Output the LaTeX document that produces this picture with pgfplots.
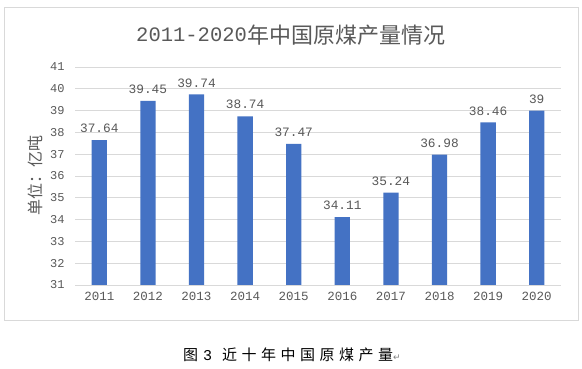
\documentclass[border=0pt]{standalone}
\usepackage{fontspec}
\setmainfont{Noto Sans CJK SC}
\newfontfamily\cjk{Noto Sans CJK SC}
\newfontfamily\numfont{Liberation Mono}
\newfontfamily\symfont{DejaVu Sans}
\usepackage{pgfplots}
\pgfplotsset{compat=1.18}
\definecolor{barblue}{HTML}{4472C4}
\definecolor{txtgray}{HTML}{595959}
\definecolor{gridgray}{HTML}{D9D9D9}
\newcommand{\csp}{\hspace{4.5bp}}
\begin{document}
\begin{tikzpicture}
\path[use as bounding box] (0,0) rectangle (582bp,369bp);
\fill[white] (0,0) rectangle (582bp,369bp);
\draw[gridgray, line width=0.8bp] (4bp,49bp) rectangle (578bp,362bp);
\begin{axis}[
  at={(75bp,84bp)}, anchor=south west,
  width=486bp, height=218bp, scale only axis,
  xmin=-0.5, xmax=9.5, ymin=31, ymax=41,
  ytick={31,32,...,41},
  xtick={0,...,9},
  xticklabels={2011,2012,2013,2014,2015,2016,2017,2018,2019,2020},
  /pgf/number format/assume math mode=true,
  ticklabel style={font=\numfont\fontsize{12.5bp}{14bp}\selectfont, text=txtgray},
  yticklabel style={font=\numfont\fontsize{12bp}{14bp}\selectfont, xshift=-7bp},
  xticklabel style={yshift=-4bp},
  major tick length=0pt,
  ymajorgrids, grid style={gridgray, line width=0.8bp},
  axis x line*=bottom,
  axis y line*=left,
  x axis line style={draw=gridgray, line width=0.8bp},
  y axis line style={draw=none},
  ylabel={\cjk 单位：亿吨},
  ylabel style={font=\fontsize{16bp}{18bp}\selectfont, text=txtgray, at={(axis description cs:-0.082,0.5)}, anchor=center},
  ybar, bar width=15.3bp,
  nodes near coords,
  point meta=explicit symbolic,
  nodes near coords style={font=\numfont\fontsize{12.8bp}{14bp}\selectfont, text=txtgray, yshift=3.7bp},
  clip=false,
]
\addplot[fill=barblue, draw=none] coordinates {
 (0,37.64) [37.64] (1,39.45) [39.45] (2,39.74) [39.74] (3,38.74) [38.74] (4,37.47) [37.47]
 (5,34.11) [34.11] (6,35.24) [35.24] (7,36.98) [36.98] (8,38.46) [38.46] (9,39) [39]
};
\end{axis}
\node[text=txtgray, anchor=west, inner sep=0pt] at (136bp,334bp) {\numfont\fontsize{20.5bp}{24bp}\selectfont 2011-2020};
\node[text=txtgray, anchor=west, inner sep=0pt] at (247bp,334bp) {\fontsize{22bp}{25bp}\selectfont 年中国原煤产量情况};
\node[text=black, font=\fontsize{15bp}{17bp}\selectfont] at (292bp,14bp) {图\hspace{5bp}{\numfont 3}\hspace{10bp}近\csp 十\csp 年\csp 中\csp 国\csp 原\csp 煤\csp 产\csp 量{\symfont\color{gray}\fontsize{9bp}{10bp}\selectfont ↵}};
\end{tikzpicture}
\end{document}
